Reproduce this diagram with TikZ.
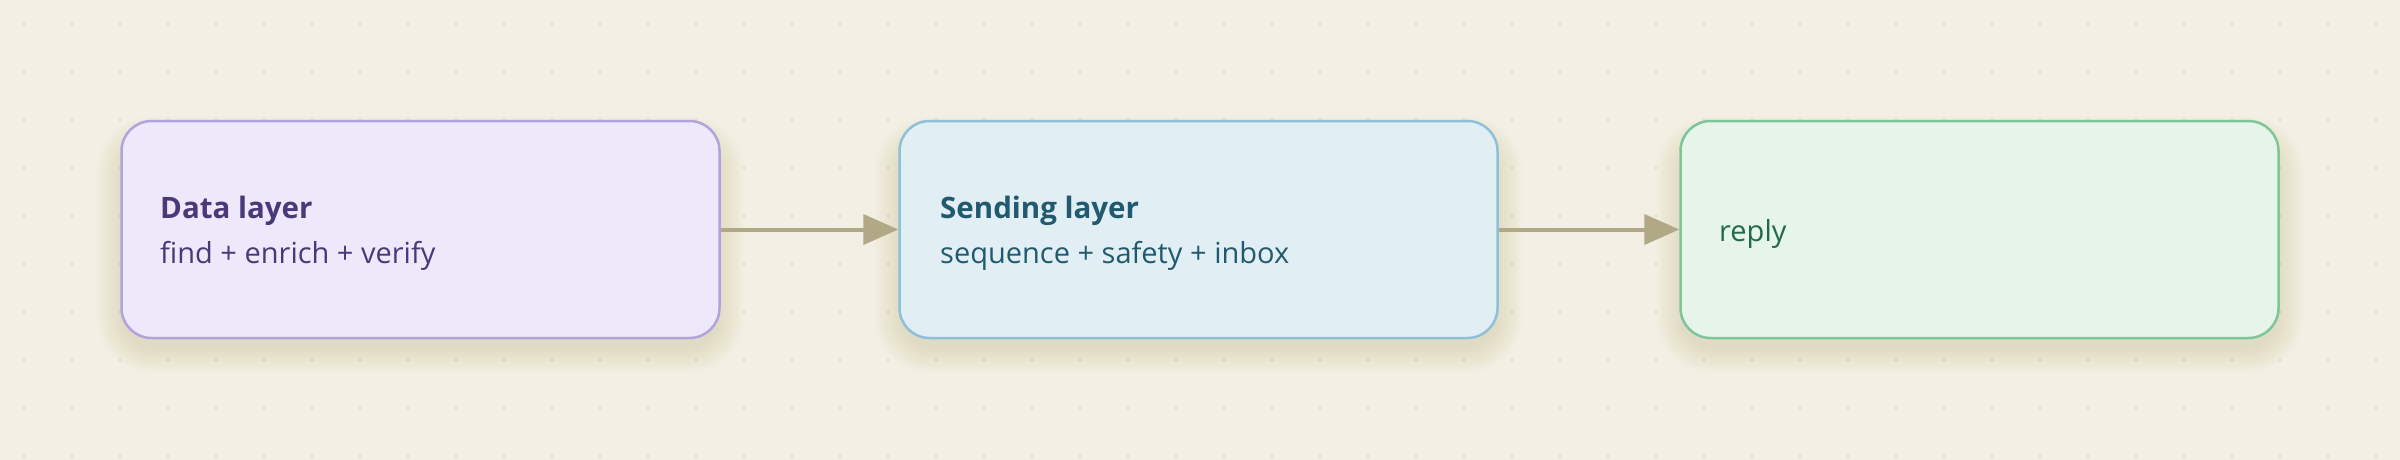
\documentclass[tikz,border=0pt]{standalone}
\usepackage{fontspec}
\setmainfont{Open Sans}
\usetikzlibrary{arrows.meta}
\pgfdeclarelayer{bg}
\pgfsetlayers{bg,main}
\definecolor{bgc}{HTML}{F3EFE4}
\definecolor{dotc}{HTML}{E2DDD0}
\definecolor{arrc}{HTML}{B1A886}
\definecolor{shc}{HTML}{8A7550}
\definecolor{pfill}{HTML}{EEE9FA}
\definecolor{pdraw}{HTML}{B3A3DC}
\definecolor{ptext}{HTML}{4A3878}
\definecolor{bfill}{HTML}{E1EFF4}
\definecolor{bdraw}{HTML}{8EC0D8}
\definecolor{btext}{HTML}{215A6E}
\definecolor{gfill}{HTML}{E6F4EA}
\definecolor{gdraw}{HTML}{7EC59A}
\definecolor{gtext}{HTML}{1F6A47}
\tikzset{
  layerbox/.style={rectangle, rounded corners=30pt, line width=2.5pt,
    minimum width=598pt, minimum height=217pt, inner sep=0pt},
  titletext/.style={anchor=base west, inner sep=0pt, font=\fontsize{29.5}{33}\selectfont\bfseries},
  subtext/.style={anchor=base west, inner sep=0pt, font=\fontsize{29}{33}\selectfont},
  flow/.style={draw=arrc, line width=4pt, -{Triangle[length=35pt,width=30pt]}},
  softshadow/.style={fill=shc, opacity=0.0075},
}
\newcommand{\boxshadow}[1]{%
  \begin{pgfonlayer}{bg}
  \foreach \k in {1,...,20}{
    \fill[softshadow, rounded corners={30pt+\k*1.3pt}]
      ([shift={(-\k*1.4+4,-\k*1.3+22)}]#1.north west) rectangle
      ([shift={(\k*1.4-4,\k*1.3+8)}]#1.south east);
  }
  \end{pgfonlayer}}
\begin{document}
\begin{tikzpicture}[x=1pt,y=-1pt]
\useasboundingbox (0,0) rectangle (2400,460);
\begin{pgfonlayer}{bg}
\fill[bgc] (0,0) rectangle (2400,460);
\foreach \i in {0,...,49}{
  \foreach \j in {0,...,9}{
    \fill[dotc] ({24+48*\i},{24+48*\j}) circle (1.6pt);
  }
}
\end{pgfonlayer}
\node[layerbox, fill=pfill, draw=pdraw] (data) at (420.5,229.5) {};
\node[layerbox, fill=bfill, draw=bdraw] (send) at (1198.5,229.5) {};
\node[layerbox, fill=gfill, draw=gdraw] (reply) at (1979.5,229.5) {};
\boxshadow{data}
\boxshadow{send}
\boxshadow{reply}
\node[titletext, text=ptext] (datat) at (160,218) {Data layer};
\node[subtext, text=ptext] (datas) at (160,263) {find + enrich + verify};
\node[titletext, text=btext] (sendt) at (940,218) {Sending layer};
\node[subtext, text=btext] (sends) at (940,263) {sequence + safety + inbox};
\node[subtext, text=gtext] (replyt) at (1719,241) {reply};
\draw[flow] (data.east) -- (send.west);
\draw[flow] (send.east) -- (reply.west);
\end{tikzpicture}
\end{document}
